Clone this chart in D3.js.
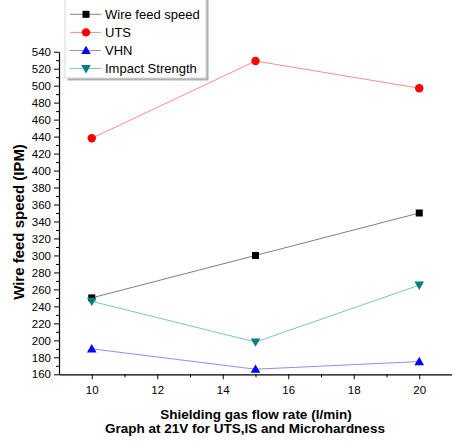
<!DOCTYPE html>
<html><head><meta charset="utf-8">
<script src="https://cdn.jsdelivr.net/npm/d3@7"></script>
<style>body{margin:0;background:#fff}svg{display:block;font-family:Arial,"Liberation Sans",sans-serif}</style>
</head><body><svg id="c" width="452" height="441"></svg>
<script>
const flowRates = [10, 15, 20];
const wireFeedSpeed = [250, 300, 350];
const uts = [438, 529, 497];
const vhn = [190, 166, 175];
const impactStrength = [246, 198, 265];
const seriesNames = ["Wire feed speed", "UTS", "VHN", "Impact Strength"];
const yTicks = [160,180,200,220,240,260,280,300,320,340,360,380,400,420,440,460,480,500,520,540];
const xTicks = [10,12,14,16,18,20];

const series = [
  {name: seriesNames[0], values: wireFeedSpeed, line: "#808080", fill: "#000000", sym: "square"},
  {name: seriesNames[1], values: uts, line: "#ff8c8c", fill: "#ff0000", sym: "circle"},
  {name: seriesNames[2], values: vhn, line: "#8c8cff", fill: "#0000ff", sym: "up"},
  {name: seriesNames[3], values: impactStrength, line: "#7cc4c4", fill: "#008080", sym: "down"}
];

const svg = d3.select("#c");
const x = d3.scaleLinear().domain([9, 21]).range([59, 452]);
const y = d3.scaleLinear().domain([160, 540]).range([374.3, 51.7]);

// axes
const xAxis = d3.axisBottom(x).tickValues(xTicks).tickFormat(d3.format("d")).tickSize(5).tickSizeOuter(0);
const gx = svg.append("g").attr("transform", "translate(0,374.3)").call(xAxis);
gx.select(".domain").attr("stroke", "#000").attr("stroke-width", 1.2);
gx.selectAll(".tick line").attr("stroke", "#000");
gx.selectAll(".tick text").attr("font-size", 11.5).attr("fill", "#000").attr("dy", "1.05em");
const gxm = svg.append("g").attr("transform", "translate(0,374.3)").call(
  d3.axisBottom(x).tickValues(d3.range(11, 22, 2)).tickSize(3).tickFormat("").tickSizeOuter(0));
gxm.select(".domain").remove();
gxm.selectAll(".tick line").attr("stroke", "#000");

const yAxis = d3.axisLeft(y).tickValues(yTicks).tickFormat(d3.format("d")).tickSize(5).tickSizeOuter(0);
const gy = svg.append("g").attr("transform", "translate(59,0)").call(yAxis);
gy.select(".domain").attr("stroke", "#000").attr("stroke-width", 1.2);
gy.selectAll(".tick line").attr("stroke", "#000");
gy.selectAll(".tick text").attr("font-size", 11.5).attr("fill", "#000").attr("x", -8);
const gym = svg.append("g").attr("transform", "translate(59,0)").call(
  d3.axisLeft(y).tickValues(d3.range(170, 540, 20)).tickSize(3).tickFormat("").tickSizeOuter(0));
gym.select(".domain").remove();
gym.selectAll(".tick line").attr("stroke", "#000");

// axis titles
svg.append("text").attr("transform", "translate(24,222) rotate(-90)")
  .attr("text-anchor", "middle").attr("font-weight", "bold").attr("font-size", 15)
  .text("Wire feed speed (IPM)");
svg.append("text").attr("x", 256).attr("y", 419).attr("text-anchor", "middle")
  .attr("font-weight", "bold").attr("font-size", 13.5).text("Shielding gas flow rate (l/min)");
svg.append("text").attr("x", 245).attr("y", 433).attr("text-anchor", "middle")
  .attr("font-weight", "bold").attr("font-size", 13.5).text("Graph at 21V for UTS,IS and Microhardness");

function symbol(g, s, cx, cy) {
  if (s.sym === "square") {
    g.append("rect").attr("x", cx - 3.5).attr("y", cy - 3.5).attr("width", 7).attr("height", 7).attr("fill", s.fill);
  } else if (s.sym === "circle") {
    g.append("circle").attr("cx", cx).attr("cy", cy).attr("r", 4.2).attr("fill", s.fill);
  } else if (s.sym === "up") {
    g.append("path").attr("d", `M${cx},${cy-4.8}L${cx+4.8},${cy+3.6}L${cx-4.8},${cy+3.6}Z`).attr("fill", s.fill);
  } else {
    g.append("path").attr("d", `M${cx},${cy+4.8}L${cx+4.8},${cy-3.6}L${cx-4.8},${cy-3.6}Z`).attr("fill", s.fill);
  }
}

const line = d3.line().x((d, i) => x(flowRates[i])).y(d => y(d));
series.forEach(s => {
  const g = svg.append("g");
  g.append("path").attr("d", line(s.values)).attr("fill", "none").attr("stroke", s.line).attr("stroke-width", 1);
  s.values.forEach((v, i) => symbol(g, s, x(flowRates[i]), y(v)));
});

// legend
const lg = svg.append("g");
lg.append("rect").attr("x", 67.5).attr("y", -1.5).attr("width", 141).attr("height", 82).attr("fill", "#b0b0b0");
lg.append("rect").attr("x", 65).attr("y", -4).attr("width", 141).attr("height", 82).attr("fill", "#fff").attr("stroke", "#d8d8d8").attr("stroke-width", 1);
series.forEach((s, i) => {
  const cy = 14.3 + i * 18.1;
  lg.append("line").attr("x1", 70).attr("x2", 101).attr("y1", cy).attr("y2", cy).attr("stroke", s.line).attr("stroke-width", 1);
  symbol(lg, s, 86, cy);
  lg.append("text").attr("x", 105).attr("y", cy + 4.6).attr("font-size", 13).text(s.name);
});
</script></body></html>
